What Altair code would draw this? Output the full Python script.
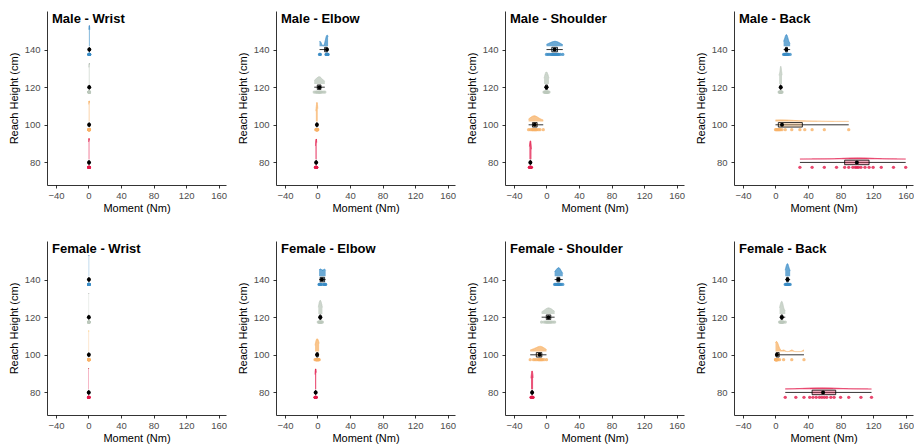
import altair as alt
import pandas as pd

# ---------------- data ----------------
HEIGHTS = [80, 100, 120, 140]
COLORS = ["#E31A4B", "#F7B267", "#BCC8BC", "#3A8CC6"]
X_TICKS = [-40, 0, 40, 80, 120, 160]
Y_TICKS = [80, 100, 120, 140]
SEXES = ["Male", "Female"]
JOINTS = ["Wrist", "Elbow", "Shoulder", "Back"]

male_wrist = {
    80: [0.2, 0.4, 0.5, 0.6, 0.7, 0.8, 0.9, 1.0, 1.1, 0.6, 0.5, 0.7],
    100: [0.3, 0.5, 0.6, 0.7, 0.8, 0.9, 1.0, 1.1, 1.2, 0.7, 0.8, 0.6],
    120: [0.4, 0.6, 0.7, 0.8, 0.9, 1.0, 1.1, 1.2, 1.3, 0.8, 0.9, 1.0],
    140: [0.5, 0.7, 0.8, 0.9, 1.0, 1.1, 1.2, 1.3, 1.5, 0.9, 1.0, 1.1],
}
male_elbow = {
    80: [-2.5, -2.2, -2.0, -1.8, -1.6, -1.5, -1.4, -1.2, -1.0, -1.7, -1.9, -1.3],
    100: [-2.0, -1.6, -1.2, -1.0, -0.8, -0.6, -0.4, -0.2, 0.0, 0.3, -0.9, -0.5],
    120: [-4.0, -2.0, -1.0, 0.0, 1.0, 2.0, 2.5, 3.0, 4.0, 5.0, 7.0, 9.0],
    140: [2.5, 3.0, 3.5, 10.5, 11.0, 11.5, 12.0, 12.0, 12.5, 13.0, 11.8, 12.2],
}
male_shoulder = {
    80: [-21, -20.5, -20, -19.8, -19.5, -19.2, -19, -18.5, -20.2, -19.6, -19.9, -20.8],
    100: [-22, -20, -18, -17, -16, -15, -14, -13, -12, -10, -8, -4],
    120: [-3, -2, -1.5, -1, -0.5, 0, 0.5, 1, 1.5, 2, 3, -0.2],
    140: [0, 2, 4, 6, 7, 8, 9, 10, 11, 12, 13, 14, 15, 17, 20],
}
male_back = {
    80: [30, 45, 60, 75, 85, 90, 95, 98, 100, 102, 105, 110, 115, 120, 130, 145, 160],
    100: [0, 1, 2, 3, 4, 5, 6, 8, 12, 20, 30, 36, 45, 60, 90],
    120: [4.5, 5, 5.5, 6, 6.2, 6.5, 6.8, 7, 7.5, 8, 6.4, 6.6],
    140: [10, 11, 12, 12.5, 13, 13.5, 14, 14.5, 15, 16, 18, 13.2],
}
female_wrist = {
    80: [0.1, 0.2, 0.3, 0.4, 0.5, 0.6, 0.4, 0.3, 0.5, 0.2],
    100: [0.2, 0.3, 0.4, 0.5, 0.6, 0.7, 0.5, 0.4, 0.6, 0.3],
    120: [0.2, 0.3, 0.4, 0.5, 0.6, 0.7, 0.5, 0.4, 0.6, 0.3],
    140: [0.3, 0.4, 0.5, 0.6, 0.7, 0.8, 0.6, 0.5, 0.7, 0.4],
}
female_elbow = {
    80: [-3, -2.7, -2.5, -2.3, -2.2, -2, -1.8, -1.6, -2.1, -2.4],
    100: [-3, -2, -1.5, -1, -0.5, 0, 0.5, 1, 1.5, 2, -0.8],
    120: [1, 2, 2.5, 3, 3.5, 4, 4.5, 5, 6, 3.2],
    140: [2, 2.5, 3, 3.5, 4, 8, 8.5, 9, 9.5, 10, 5.5],
}
female_shoulder = {
    80: [-19, -18.5, -18, -17.8, -17.5, -17.2, -17, -16.5, -18.2, -17.6],
    100: [-20, -16, -14, -12, -10, -9, -8, -7, -6, -5, -3, 0],
    120: [-6, -3, -1, 0, 1, 2, 3, 4, 5, 6, 8, 10],
    140: [10, 11, 12, 13, 14, 14.5, 15, 15.5, 16, 17, 18, 20],
}
female_back = {
    80: [12, 25, 35, 42, 46, 50, 54, 57, 60, 63, 68, 72, 80, 90, 105, 118],
    100: [0, 0.3, 0.5, 0.8, 1, 1.2, 1.5, 2, 2.5, 3, 5, 10, 20, 35],
    120: [5, 6, 6.5, 7, 7.5, 8, 8.5, 9, 10, 12, 7.8],
    140: [12, 13, 13.5, 14, 14.5, 15, 15.5, 16, 17, 18, 14.8],
}

PANEL_DATA = {
    ("Male", "Wrist"): male_wrist,
    ("Male", "Elbow"): male_elbow,
    ("Male", "Shoulder"): male_shoulder,
    ("Male", "Back"): male_back,
    ("Female", "Wrist"): female_wrist,
    ("Female", "Elbow"): female_elbow,
    ("Female", "Shoulder"): female_shoulder,
    ("Female", "Back"): female_back,
}

rows = []
for (sex, joint), groups in PANEL_DATA.items():
    for h, vals in groups.items():
        for v in vals:
            rows.append({"panel": f"{sex} - {joint}", "height": h, "value": v})
df = pd.DataFrame(rows)

# ---------------- chart ----------------
W, H = 179, 174
XDOM = [-51, 169]
YDOM = [68, 160.5]
FONT = "Liberation Sans"

xscale = alt.Scale(domain=XDOM, nice=False, zero=False)
yscale = alt.Scale(domain=YDOM, nice=False, zero=False)
cscale = alt.Scale(domain=HEIGHTS, range=COLORS)

xaxis = alt.Axis(values=X_TICKS, title="Moment (Nm)", labelFlush=False)
yaxis = alt.Axis(values=Y_TICKS, title="Reach Height (cm)")


def X(field):
    return alt.X(field, scale=xscale, axis=xaxis, title="Moment (Nm)")


def Y(field):
    return alt.Y(field, scale=yscale, axis=yaxis, title="Reach Height (cm)")


def COL():
    return alt.Color("height:N", scale=cscale, legend=None)


def panel(sex, joint):
    name = f"{sex} - {joint}"
    base = alt.Chart(df).transform_filter(alt.datum.panel == name)

    layers = []
    for h in HEIGHTS:
        vd = (
            base.transform_filter(alt.datum.height == h)
            .transform_density("value", groupby=["height"], as_=["value", "density"], steps=150)
            .transform_calculate(
                vb="datum.height + 1.7",
                vt="datum.height + 1.7 + 11 * (1 - exp(-50 * datum.density / 11))",
            )
        )
        layers.append(
            vd.mark_area(opacity=0.75, interpolate="monotone").encode(
                x=X("value:Q"), y=Y("vt:Q"), y2="vb:Q", color=COL()
            )
        )
        layers.append(
            vd.mark_line(strokeWidth=0.8, interpolate="monotone").encode(
                x=X("value:Q"), y=Y("vt:Q"), color=COL()
            )
        )

    points = (
        base.transform_calculate(py="datum.height - 2.6")
        .mark_circle(size=11, opacity=0.8)
        .encode(x=X("value:Q"), y=Y("py:Q"), color=COL())
    )

    stats = base.transform_aggregate(
        q1="q1(value)", q3="q3(value)", med="median(value)",
        lo="min(value)", hi="max(value)", groupby=["height"],
    ).transform_calculate(b0="datum.height - 1.2", b1="datum.height + 1.2")

    whisker = stats.mark_rule(color="black", strokeWidth=0.8).encode(
        x=X("lo:Q"), x2="hi:Q", y=Y("height:Q")
    )
    box = stats.mark_rect(stroke="black", strokeWidth=0.8, fillOpacity=0.35).encode(
        x=X("q1:Q"), x2="q3:Q", y=Y("b0:Q"), y2="b1:Q", color=COL()
    )
    med = stats.mark_circle(color="black", size=16, opacity=1).encode(
        x=X("med:Q"), y=Y("height:Q")
    )

    title = alt.Chart(alt.Data(values=[{"t": name}])).mark_text(
        align="left", baseline="top", font=FONT, fontSize=13,
        fontWeight="bold", color="black",
    ).encode(text="t:N", x=alt.value(5), y=alt.value(2))

    return alt.layer(*layers, points, whisker, box, med, title).properties(
        width=W, height=H
    )


panels = [panel(sex, j) for sex in SEXES for j in JOINTS]

chart = (
    alt.concat(*panels, columns=4, spacing={"row": 56, "column": 50}, bounds="flush")
    .properties(padding={"left": 8, "top": 11, "right": 0, "bottom": 0})
    .configure_view(stroke=None)
    .configure_axis(
        grid=False,
        domainColor="black",
        domainWidth=0.8,
        tickColor="black",
        tickWidth=0.8,
        tickSize=3,
        labelColor="#4d4d4d",
        labelFont=FONT,
        labelFontSize=9.5,
        labelPadding=2,
        titleFont=FONT,
        titleFontSize=11,
        titleFontWeight="normal",
        titleColor="black",
        titlePadding=3,
    )
    .configure_axisY(labelPadding=4, titlePadding=5)
)

chart.save("out.html", embed_options={"renderer": "svg", "actions": False})
